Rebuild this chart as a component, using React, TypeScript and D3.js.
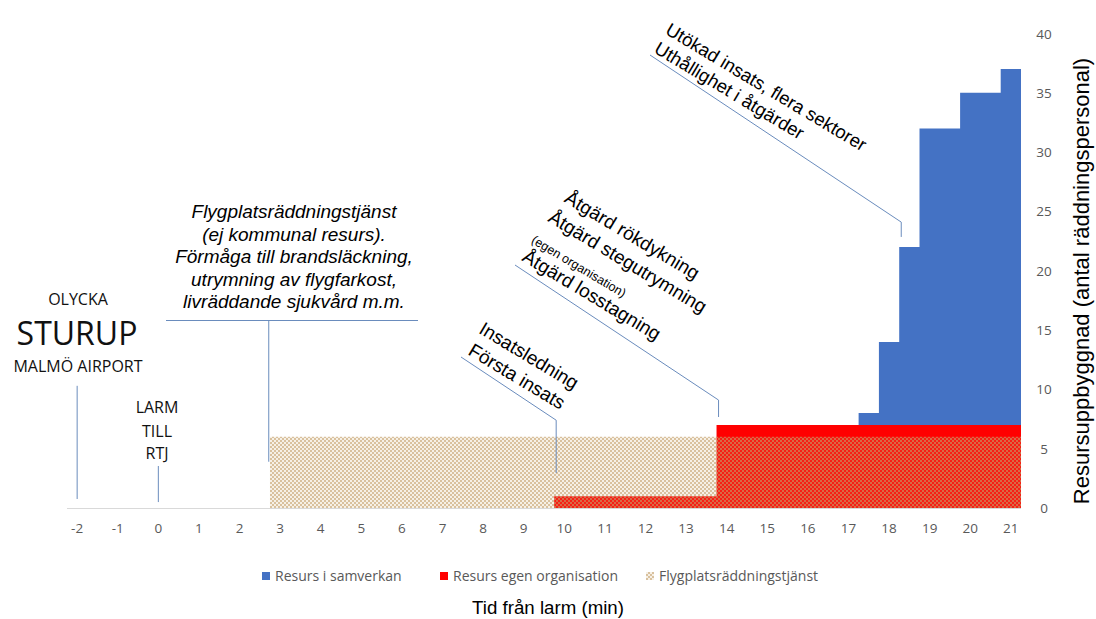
import React from "react";
import * as d3 from "d3";

// ---------- data ----------
const minutes = [
  -2, -1.5, -1, -0.5, 0, 0.5, 1, 1.5, 2, 2.5, 3, 3.5, 4, 4.5, 5, 5.5, 6, 6.5, 7, 7.5,
  8, 8.5, 9, 9.5, 10, 10.5, 11, 11.5, 12, 12.5, 13, 13.5, 14, 14.5, 15, 15.5, 16, 16.5,
  17, 17.5, 18, 18.5, 19, 19.5, 20, 20.5, 21,
];
// Flygplatsräddningstjänst (pattern)
const flygplats = [
  0, 0, 0, 0, 0, 0, 0, 0, 0, 0, 6, 6, 6, 6, 6, 6, 6, 6, 6, 6,
  6, 6, 6, 6, 6, 6, 6, 6, 6, 6, 6, 6, 6, 6, 6, 6, 6, 6,
  6, 6, 6, 6, 6, 6, 6, 6, 6,
];
// Resurs egen organisation (red)
const egenOrg = [
  0, 0, 0, 0, 0, 0, 0, 0, 0, 0, 0, 0, 0, 0, 0, 0, 0, 0, 0, 0,
  0, 0, 0, 0, 1, 1, 1, 1, 1, 1, 1, 1, 7, 7, 7, 7, 7, 7,
  7, 7, 7, 7, 7, 7, 7, 7, 7,
];
// Resurs i samverkan (blue, total level)
const samverkan = [
  0, 0, 0, 0, 0, 0, 0, 0, 0, 0, 0, 0, 0, 0, 0, 0, 0, 0, 0, 0,
  0, 0, 0, 0, 0, 0, 0, 0, 0, 0, 0, 0, 0, 0, 0, 0, 0, 0,
  0, 8, 14, 22, 32, 32, 35, 35, 37,
];
const xTickLabels = [-2, -1, 0, 1, 2, 3, 4, 5, 6, 7, 8, 9, 10, 11, 12, 13, 14, 15, 16, 17, 18, 19, 20, 21];
const yTicks = [0, 5, 10, 15, 20, 25, 30, 35, 40];
const legendLabels = ["Resurs i samverkan", "Resurs egen organisation", "Flygplatsräddningstjänst"];

// ---------- layout ----------
const W = 1096;
const H = 619;
const X0 = 67;
const X1 = 1021;
const x = d3.scaleBand<string>().domain(minutes.map(String)).range([X0, X1]).padding(0);
const xm = d3.scaleLinear().domain([-2.25, 21.25]).range([X0, X1]);
const y = d3.scaleLinear().domain([0, 40]).range([508, 33.5]);

const BLUE = "#4472C4";
const RED = "#FF0000";
const LEADER = "#6a8cbd";
const ARIAL = "'Liberation Sans', Arial, sans-serif";
const CAL = "'Open Sans', 'Noto Sans', sans-serif";
const TEXT_ANGLE = 31;

function seriesPath(vals: number[]) {
  const bw = x.bandwidth();
  const pts = minutes.map((m, i) => ({ px: x(String(m)) as number, v: vals[i] }));
  const last = minutes[minutes.length - 1];
  pts.push({ px: (x(String(last)) as number) + bw, v: vals[vals.length - 1] });
  const area = d3
    .area<{ px: number; v: number }>()
    .x((d) => d.px)
    .y0(y(0))
    .y1((d) => y(d.v))
    .curve(d3.curveStepAfter);
  return area(pts) || "";
}

type Line = { t: string; dx: number; dy: number; size: number };
function Block({
  p0,
  p1,
  vEnd,
  anchor,
  lines,
}: {
  p0: [number, number];
  p1: [number, number];
  vEnd: number;
  anchor: [number, number];
  lines: Line[];
}) {
  return (
    <g>
      <polyline
        points={`${p0[0]},${p0[1]} ${p1[0]},${p1[1]} ${p1[0]},${vEnd}`}
        fill="none"
        stroke={LEADER}
        strokeWidth={1}
      />
      <g transform={`translate(${anchor[0]},${anchor[1]}) rotate(${TEXT_ANGLE})`}>
        {lines.map((l, i) => (
          <text key={i} x={l.dx} y={l.dy} fontSize={l.size} fontFamily={ARIAL} fill="#000">
            {l.t}
          </text>
        ))}
      </g>
    </g>
  );
}

export default function App() {
  const fly = seriesPath(flygplats);
  const red = seriesPath(egenOrg);
  const blue = seriesPath(samverkan);
  const flyLines = [
    "Flygplatsräddningstjänst",
    "(ej kommunal resurs).",
    "Förmåga till brandsläckning,",
    "utrymning av flygfarkost,",
    "livräddande sjukvård m.m.",
  ];
  const legendX = [262, 440, 646];
  const legendFill = [BLUE, RED, "url(#flyPat)"];

  return (
    <svg width={W} height={H} style={{ position: "absolute", left: 0, top: 0, background: "#fff" }}>
      <defs>
        <pattern id="flyPat" width={4} height={4} patternUnits="userSpaceOnUse">
          <rect width={4} height={4} fill="rgba(205,170,115,0.18)" />
          <rect x={0} y={0} width={2} height={2} fill="rgba(195,158,105,0.58)" />
          <rect x={2} y={2} width={2} height={2} fill="rgba(195,158,105,0.58)" />
        </pattern>
      </defs>

      {/* series */}
      <path d={blue} fill={BLUE} />
      <path d={red} fill={RED} />
      <path d={fly} fill="url(#flyPat)" />

      {/* x axis */}
      <line x1={X0} x2={X1} y1={y(0) + 0.5} y2={y(0) + 0.5} stroke="#d9d9d9" strokeWidth={1} />
      {xTickLabels.map((t) => (
        <text
          key={t}
          x={(x(String(t)) as number) + x.bandwidth() / 2}
          y={533}
          textAnchor="middle"
          fontSize={13.5}
          fontFamily={CAL}
          fill="#595959"
        >
          {t}
        </text>
      ))}
      {/* y axis labels (right) */}
      {yTicks.map((t) => (
        <text key={t} x={1044} y={y(t) + 5} textAnchor="middle" fontSize={13.5} fontFamily={CAL} fill="#595959">
          {t}
        </text>
      ))}

      {/* axis titles */}
      <text x={548} y={614} textAnchor="middle" fontSize={18.7} fontFamily={ARIAL} fill="#000">
        Tid från larm (min)
      </text>
      <text
        transform={`translate(1089,281) rotate(-90)`}
        textAnchor="middle"
        fontSize={22}
        fontFamily={ARIAL}
        fill="#000"
      >
        Resursuppbyggnad (antal räddningspersonal)
      </text>

      {/* legend */}
      {legendLabels.map((l, i) => (
        <g key={l}>
          <rect x={legendX[i]} y={572} width={8} height={8} fill={legendFill[i]} />
          <text x={legendX[i] + 13} y={581} fontSize={14} fontFamily={CAL} fill="#595959">
            {l}
          </text>
        </g>
      ))}

      {/* OLYCKA STURUP */}
      <text x={78} y={305} textAnchor="middle" fontSize={16} fontFamily={CAL} fill="#111">OLYCKA</text>
      <text x={77} y={345} textAnchor="middle" fontSize={32} fontFamily={CAL} fill="#111">STURUP</text>
      <text x={78} y={372} textAnchor="middle" fontSize={16} fontFamily={CAL} fill="#111">MALMÖ AIRPORT</text>
      <line x1={xm(-2)} x2={xm(-2)} y1={y(10.3)} y2={y(0.76)} stroke={LEADER} strokeWidth={1} />

      {/* LARM TILL RTJ */}
      <text x={157} y={413} textAnchor="middle" fontSize={16} fontFamily={CAL} fill="#111">LARM</text>
      <text x={157} y={437} textAnchor="middle" fontSize={16} fontFamily={CAL} fill="#111">TILL</text>
      <text x={157} y={459} textAnchor="middle" fontSize={16} fontFamily={CAL} fill="#111">RTJ</text>
      <line x1={xm(0)} x2={xm(0)} y1={y(3.54)} y2={y(0.5)} stroke={LEADER} strokeWidth={1} />

      {/* Flygplatsräddningstjänst block */}
      {flyLines.map((t, i) => (
        <text
          key={t}
          x={294}
          y={218 + i * 22.5}
          textAnchor="middle"
          fontSize={19}
          fontStyle="italic"
          fontFamily={ARIAL}
          fill="#000"
        >
          {t}
        </text>
      ))}
      <line x1={166} x2={418} y1={320.5} y2={320.5} stroke={LEADER} strokeWidth={1} />
      <line x1={xm(2.72)} x2={xm(2.72)} y1={320.5} y2={y(3.9)} stroke={LEADER} strokeWidth={1} />

      {/* rotated blocks */}
      <Block
        p0={[461, 357]}
        p1={[xm(9.8), y(7.4)]}
        vEnd={y(2.95)}
        anchor={[467, 354]}
        lines={[
          { t: "Insatsledning", dx: -2, dy: -24, size: 19 },
          { t: "Första insats", dx: 0, dy: 0, size: 19 },
        ]}
      />
      <Block
        p0={[515, 265]}
        p1={[xm(13.8), y(9.1)]}
        vEnd={y(7.67)}
        anchor={[521, 260]}
        lines={[
          { t: "Åtgärd rökdykning", dx: 6, dy: -72, size: 19 },
          { t: "Åtgärd stegutrymning", dx: 2, dy: -47, size: 19 },
          { t: "(egen organisation)", dx: -1, dy: -20, size: 12.5 },
          { t: "Åtgärd losstagning", dx: 0, dy: 0, size: 19 },
        ]}
      />
      <Block
        p0={[650, 55]}
        p1={[xm(18.3), y(24.1)]}
        vEnd={y(22.85)}
        anchor={[653, 52]}
        lines={[
          { t: "Utökad insats, flera sektorer", dx: 0, dy: -22, size: 18.5 },
          { t: "Uthållighet i åtgärder", dx: 0, dy: 0, size: 18.5 },
        ]}
      />
    </svg>
  );
}
